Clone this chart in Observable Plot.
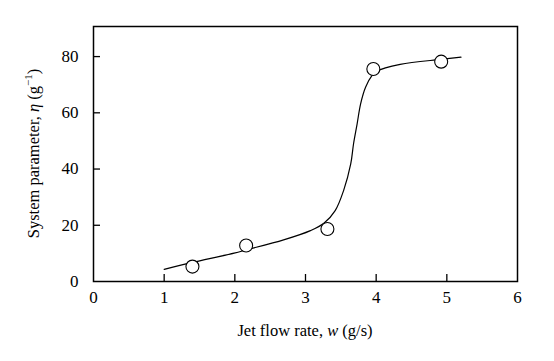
<!DOCTYPE html>
<html>
<head>
<meta charset="utf-8">
<script src="https://cdn.jsdelivr.net/npm/d3@7"></script>
<script src="https://cdn.jsdelivr.net/npm/@observablehq/plot@0.6"></script>
<style>
  html, body { margin: 0; padding: 0; background: #fff; }
  #chart svg { display: block; }
</style>
</head>
<body>
<div id="chart"></div>
<script>
// Measured points (jet flow rate w, system parameter eta)
const pointW = [1.4, 2.16, 3.31, 3.96, 4.92];
const pointEta = [5.3, 12.8, 18.7, 75.6, 78.2];

// Fitted curve
const curveW = [1.0, 1.37, 1.99, 2.17, 2.69, 3.07, 3.26, 3.42, 3.54, 3.64, 3.68, 3.73, 3.78, 3.85, 3.94, 4.01, 4.34, 4.91, 5.2];
const curveEta = [4.3, 6.6, 10.1, 11.3, 14.8, 18.1, 20.7, 25.2, 32.4, 41.8, 49, 56, 63.2, 69.1, 73.2, 74.8, 77.2, 79.0, 79.8];

const xTickLabels = [0, 1, 2, 3, 4, 5, 6];
const xTickMarks = [1, 2, 3, 4, 5];
const yTickLabels = [0, 20, 40, 60, 80];
const yTickMarks = [20, 40, 60, 80];

const points = pointW.map((w, i) => ({w, eta: pointEta[i]}));
const curve = curveW.map((w, i) => ({w, eta: curveEta[i]}));

const W = 554, H = 361;
const margin = {top: 26, right: 37, bottom: 80, left: 93};
const font = "'Liberation Serif', 'Times New Roman', serif";
const fmt = d => String(d);

const chart = Plot.plot({
  width: W,
  height: H,
  marginTop: margin.top,
  marginRight: margin.right,
  marginBottom: margin.bottom,
  marginLeft: margin.left,
  style: {background: "white"},
  x: {domain: [0, 6]},
  y: {domain: [0, 90.7]},
  marks: [
    Plot.axisX({ticks: xTickLabels, tickFormat: fmt, tickSize: 0, tickPadding: 9, label: null, fontFamily: font, fontSize: 17, fill: "black"}),
    Plot.axisX({ticks: xTickMarks, tickSize: -7, tickFormat: () => "", label: null, stroke: "black", strokeWidth: 1.3}),
    Plot.axisY({ticks: yTickLabels, tickFormat: fmt, tickSize: 0, tickPadding: 15, label: null, fontFamily: font, fontSize: 17, fill: "black"}),
    Plot.axisY({ticks: yTickMarks, tickSize: -7, tickFormat: () => "", label: null, stroke: "black", strokeWidth: 1.3}),
    Plot.line(curve, {x: "w", y: "eta", curve: "catmull-rom", stroke: "black", strokeWidth: 1.2}),
    Plot.dot(points, {x: "w", y: "eta", r: 6.5, fill: "white", stroke: "black", strokeWidth: 1.1}),
    Plot.frame({stroke: "black", strokeWidth: 1.5})
  ]
});

document.getElementById("chart").appendChild(chart);

const svg = d3.select(chart);
// Force serif font on all tick label texts
svg.selectAll("text")
  .attr("font-family", font)
  .style("font-family", font)
  .style("font-size", "17px")
  .style("fill", "black");

// Axis titles with italic symbols
const xl = svg.append("text")
  .attr("x", (margin.left + (W - margin.right)) / 2)
  .attr("y", 336)
  .attr("text-anchor", "middle")
  .style("font-family", font)
  .style("font-size", "16.5px")
  .style("fill", "black");
xl.append("tspan").text("Jet flow rate, ");
xl.append("tspan").attr("font-style", "italic").text("w");
xl.append("tspan").text(" (g/s)");

const cy = (margin.top + (H - margin.bottom)) / 2;
const yl = svg.append("text")
  .attr("transform", `translate(39,${cy}) rotate(-90)`)
  .attr("text-anchor", "middle")
  .style("font-family", font)
  .style("font-size", "16.5px")
  .style("fill", "black");
yl.append("tspan").text("System parameter, ");
yl.append("tspan").attr("font-style", "italic").text("η");
yl.append("tspan").text(" (g");
yl.append("tspan").style("font-size", "11px").attr("dy", -7).text("−1");
yl.append("tspan").attr("dy", 7).text(")");
</script>
</body>
</html>
